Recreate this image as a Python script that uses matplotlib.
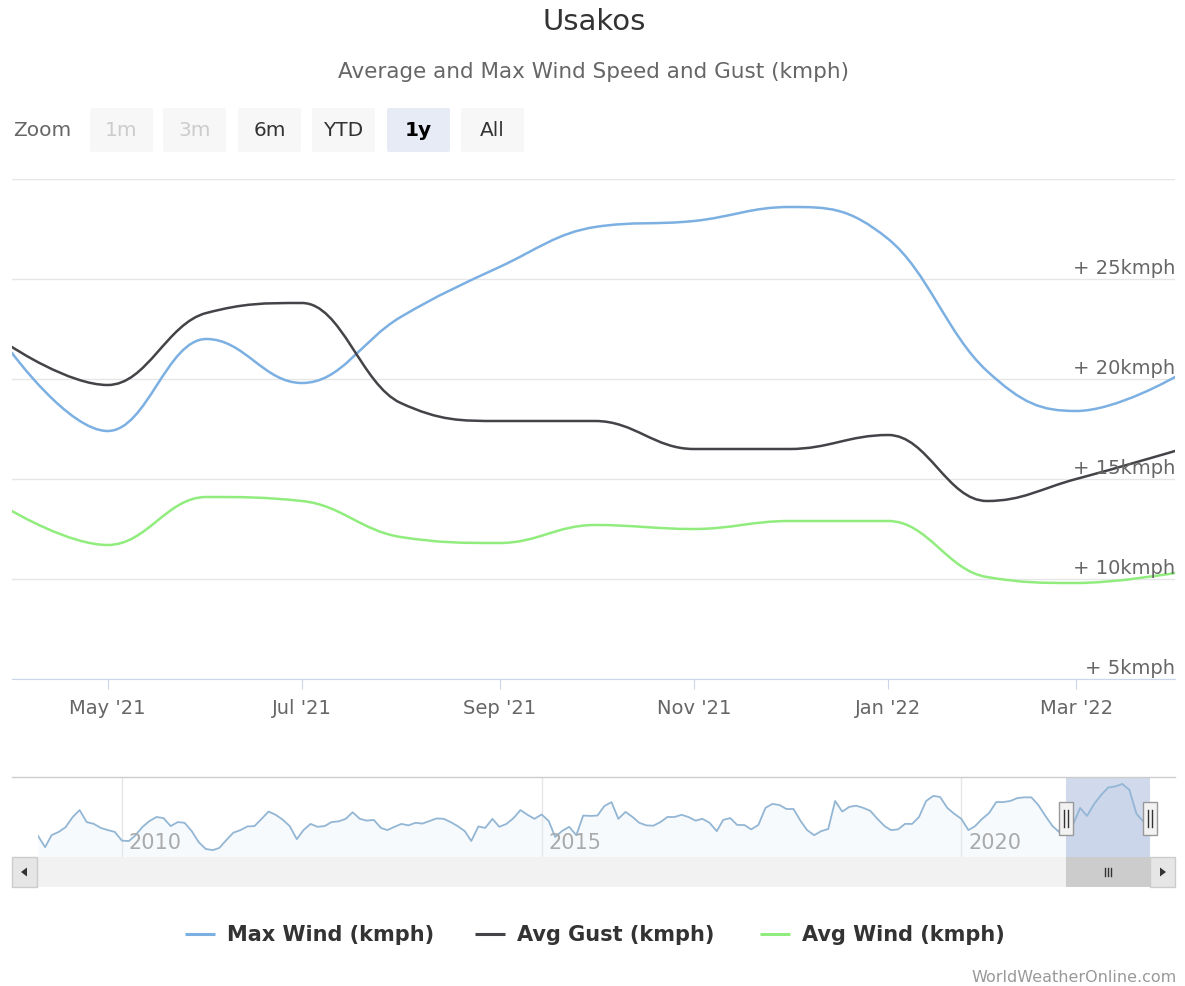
import numpy as np
import pandas as pd
import matplotlib
matplotlib.use("Agg")
import matplotlib.pyplot as plt
import matplotlib.dates as mdates
from matplotlib.path import Path
from matplotlib.patches import PathPatch, Rectangle, FancyBboxPatch, Polygon
from matplotlib.transforms import blended_transform_factory

# ---- data (kmph), monthly, Apr 2021 - Apr 2022 ----
months = pd.date_range("2021-04-01", periods=13, freq="MS")
max_wind = [21.3, 17.4, 22.0, 19.8, 23.1, 25.6, 27.6, 27.9, 28.6, 27.0, 20.4, 18.4, 20.1]
avg_gust = [21.6, 19.7, 23.3, 23.8, 18.8, 17.9, 17.9, 16.5, 16.5, 17.2, 13.9, 15.0, 16.4]
avg_wind = [13.4, 11.7, 14.1, 13.9, 12.1, 11.8, 12.7, 12.5, 12.9, 12.9, 10.1, 9.8, 10.3]

# navigator history of max wind, Jan 2009 - Mar 2021
nav_2009 = [14.3, 11.2, 14.5, 15.4, 16.7, 19.5, 21.4, 18.1, 17.6, 16.5, 15.9, 15.4]
nav_2010 = [13.0, 12.9, 14.5, 16.8, 18.4, 19.5, 19.2, 17.0, 18.1, 17.9, 15.6, 12.6]
nav_2011 = [10.7, 10.4, 11.0, 13.2, 15.2, 15.9, 16.9, 17.0, 19.0, 21.0, 20.1, 18.8]
nav_2012 = [17.0, 13.4, 15.9, 17.6, 16.8, 17.0, 18.1, 18.3, 19.0, 20.8, 19.0, 18.5]
nav_2013 = [18.7, 16.5, 15.9, 16.8, 17.6, 17.2, 17.9, 17.7, 18.4, 19.1, 19.0, 18.1]
nav_2014 = [17.0, 15.6, 12.9, 16.9, 16.5, 19.0, 16.8, 17.6, 19.2, 21.4, 20.1, 19.0]
nav_2015 = [20.2, 18.4, 14.0, 15.7, 16.8, 14.5, 19.9, 19.8, 19.9, 22.5, 23.6, 19.0]
nav_2016 = [20.9, 19.5, 17.9, 17.2, 17.1, 18.1, 19.5, 19.5, 20.1, 19.5, 18.5, 19.0]
nav_2017 = [17.9, 15.6, 18.7, 19.2, 17.3, 17.3, 16.1, 17.3, 22.0, 23.1, 22.8, 21.7]
nav_2018 = [21.7, 18.4, 15.9, 14.5, 15.6, 16.2, 23.9, 21.0, 22.3, 22.6, 22.0, 21.2]
nav_2019 = [19.0, 17.0, 15.9, 16.1, 17.6, 17.6, 19.5, 23.9, 25.3, 25.0, 22.0, 20.4]
nav_2020 = [19.0, 15.9, 17.0, 19.0, 20.6, 23.6, 23.6, 23.9, 24.7, 24.9, 24.9, 22.8]
nav_2021 = [19.8, 17.0, 15.4]

y_label_vals = [5, 10, 15, 20, 25]
series_names = ["Max Wind (kmph)", "Avg Gust (kmph)", "Avg Wind (kmph)"]
series_colors = ["#7cb0e2", "#434348", "#90ed7d"]
zoom_buttons = ["1m", "3m", "6m", "YTD", "1y", "All"]

W, H = 1185, 987


def rect(l, t, r, b):
    return [l / W, 1 - b / H, (r - l) / W, (b - t) / H]


def hc_spline(xs, ys, smoothing=1.5):
    # same control points as a Highcharts "spline" series
    n = len(xs)
    lc = [None] * n
    rc = [None] * n
    denom = smoothing + 1
    for i in range(1, n - 1):
        px, py = xs[i], ys[i]
        lx, ly = xs[i - 1], ys[i - 1]
        nx, ny = xs[i + 1], ys[i + 1]
        lcx = (smoothing * px + lx) / denom
        lcy = (smoothing * py + ly) / denom
        rcx = (smoothing * px + nx) / denom
        rcy = (smoothing * py + ny) / denom
        if rcx != lcx:
            corr = (rcy - lcy) * (rcx - px) / (rcx - lcx) + py - rcy
            lcy += corr
            rcy += corr
        if lcy > ly and lcy > py:
            lcy = max(ly, py)
            rcy = 2 * py - lcy
        elif lcy < ly and lcy < py:
            lcy = min(ly, py)
            rcy = 2 * py - lcy
        if rcy > ny and rcy > py:
            rcy = max(ny, py)
            lcy = 2 * py - rcy
        elif rcy < ny and rcy < py:
            rcy = min(ny, py)
            lcy = 2 * py - rcy
        lc[i] = (lcx, lcy)
        rc[i] = (rcx, rcy)
    verts = [(xs[0], ys[0])]
    codes = [Path.MOVETO]
    for i in range(1, n):
        c1 = rc[i - 1] if rc[i - 1] else (xs[i - 1], ys[i - 1])
        c2 = lc[i] if lc[i] else (xs[i], ys[i])
        verts += [c1, c2, (xs[i], ys[i])]
        codes += [Path.CURVE4] * 3
    return Path(verts, codes)


fig = plt.figure(figsize=(W / 100, H / 100), dpi=100)

# ---- main chart ----
ax = fig.add_axes(rect(12, 180, 1175, 680))
xm = mdates.date2num(months.to_pydatetime())
for vals, col in zip([max_wind, avg_gust, avg_wind], series_colors):
    ax.add_patch(PathPatch(hc_spline(xm, vals), fill=False, edgecolor=col,
                           lw=1.8, capstyle="round", joinstyle="round", zorder=3))
ax.set_xlim(xm[0], xm[-1])
ax.set_ylim(5, 30)
ax.set_yticks([5, 10, 15, 20, 25, 30])
ax.yaxis.grid(True, color="#e6e6e6", lw=1)
ax.tick_params(axis="y", length=0, labelleft=False)
for s in ["left", "right", "top"]:
    ax.spines[s].set_visible(False)
ax.spines["bottom"].set_color("#ccd6eb")
ax.xaxis.set_major_locator(mdates.MonthLocator(bymonth=[1, 3, 5, 7, 9, 11]))
ax.xaxis.set_major_formatter(mdates.DateFormatter("%b '%y"))
ax.tick_params(axis="x", length=7, color="#ccd6eb", labelsize=14,
               labelcolor="#666666", pad=7)
ytr = blended_transform_factory(ax.transAxes, ax.transData)
for v in y_label_vals:
    ax.annotate(f"+ {v}kmph", xy=(1, v), xycoords=ytr, xytext=(0, 4),
                textcoords="offset points", ha="right", va="baseline",
                fontsize=14, color="#666666")

# ---- navigator ----
nav_hist = (nav_2009 + nav_2010 + nav_2011 + nav_2012 + nav_2013 + nav_2014 +
            nav_2015 + nav_2016 + nav_2017 + nav_2018 + nav_2019 + nav_2020 + nav_2021)
nav_vals = nav_hist + max_wind
nav_months = pd.date_range("2009-01-01", periods=len(nav_vals), freq="MS")
xn = mdates.date2num(nav_months.to_pydatetime())

nav = fig.add_axes(rect(38, 778, 1150, 858))
nav.fill_between(xn, nav_vals, 0, color="#7cb5ec", alpha=0.06, lw=0)
nav.plot(xn, nav_vals, color="#93b6d4", lw=1.3)
nav.set_xlim(xn[0], xn[-1])
nav.set_ylim(8.5, 30.5)
nav.axvspan(xm[0], xm[-1], color=(102 / 255, 133 / 255, 194 / 255, 0.3), lw=0)
nav.xaxis.set_major_locator(mdates.YearLocator(5))
nav.xaxis.grid(True, color="#e6e6e6", lw=1)
nav.tick_params(length=0, labelbottom=False, labelleft=False)
nav.set_yticks([])
for s in nav.spines.values():
    s.set_visible(False)
ntr = blended_transform_factory(nav.transData, nav.transAxes)
for t in nav.get_xticks():
    if xn[0] < t < xn[-1]:
        nav.annotate(mdates.num2date(t).strftime("%Y"), xy=(t, 0), xycoords=ntr,
                     xytext=(5, 11), textcoords="offset points", ha="left",
                     va="center", fontsize=15, color="#aaaaaa")

# ---- overlay: titles, buttons, scrollbar, legend ----
bg = fig.add_axes([0, 0, 1, 1], zorder=5)
bg.set_xlim(0, W)
bg.set_ylim(H, 0)
bg.axis("off")
bg.patch.set_alpha(0)

bg.text(594, 22, "Usakos", ha="center", va="center", fontsize=21, color="#333333")
bg.text(594, 72, "Average and Max Wind Speed and Gust (kmph)", ha="center",
        va="center", fontsize=15.5, color="#666666")

bg.text(13, 131, "Zoom", ha="left", va="center", fontsize=14.5, color="#666666")
btn_x = [90, 163, 238, 312, 387, 461]
for lbl, bx in zip(zoom_buttons, btn_x):
    sel = lbl == "1y"
    dis = lbl in ("1m", "3m")
    bg.add_patch(FancyBboxPatch((bx, 109), 63, 44, boxstyle="round,pad=0,rounding_size=2",
                                fc="#e6ebf5" if sel else "#f7f7f7", ec="none"))
    bg.text(bx + 31.5, 131, lbl, ha="center", va="center", fontsize=14.5,
            color="#cccccc" if dis else ("#000000" if sel else "#333333"),
            fontweight="bold" if sel else "normal")


def to_px(xval):
    return nav.transData.transform((xval, 0))[0]


bg.plot([12, 1175], [778, 778], color="#cccccc", lw=1)

# scrollbar
bg.add_patch(Rectangle((12, 858), 1163, 30, fc="#f2f2f2", ec="none"))
bg.add_patch(Rectangle((12, 858), 25, 30, fc="#e6e6e6", ec="#cccccc", lw=1))
bg.add_patch(Rectangle((1150, 858), 25, 30, fc="#e6e6e6", ec="#cccccc", lw=1))
bg.add_patch(Polygon([(21, 873), (27, 868.5), (27, 877.5)], fc="#333333", ec="none"))
bg.add_patch(Polygon([(1166, 873), (1160, 868.5), (1160, 877.5)], fc="#333333", ec="none"))
p0, p1 = to_px(xm[0]), to_px(xm[-1])
bg.add_patch(Rectangle((p0, 858), p1 - p0, 30, fc="#cccccc", ec="none"))
pc = (p0 + p1) / 2
for dx in (-3, 0, 3):
    bg.plot([pc + dx, pc + dx], [869, 877], color="#333333", lw=1)

# navigator handles
for hx in (p0, p1):
    bg.add_patch(Rectangle((hx - 7, 803), 14, 33, fc="#f2f2f2", ec="#999999", lw=1, zorder=4))
    for dx in (-2, 2):
        bg.plot([hx + dx, hx + dx], [811, 828], color="#333333", lw=1, zorder=5)

# legend
leg_x = [185, 475, 760]
for name, col, lx in zip(series_names, series_colors, leg_x):
    bg.plot([lx, lx + 30], [935, 935], color=col, lw=2.2, solid_capstyle="butt")
    bg.text(lx + 42, 935, name, ha="left", va="center", fontsize=15,
            fontweight="bold", color="#333333")

bg.text(1177, 977, "WorldWeatherOnline.com", ha="right", va="center",
        fontsize=11.5, color="#999999")

fig.savefig("out.png", dpi=100)
